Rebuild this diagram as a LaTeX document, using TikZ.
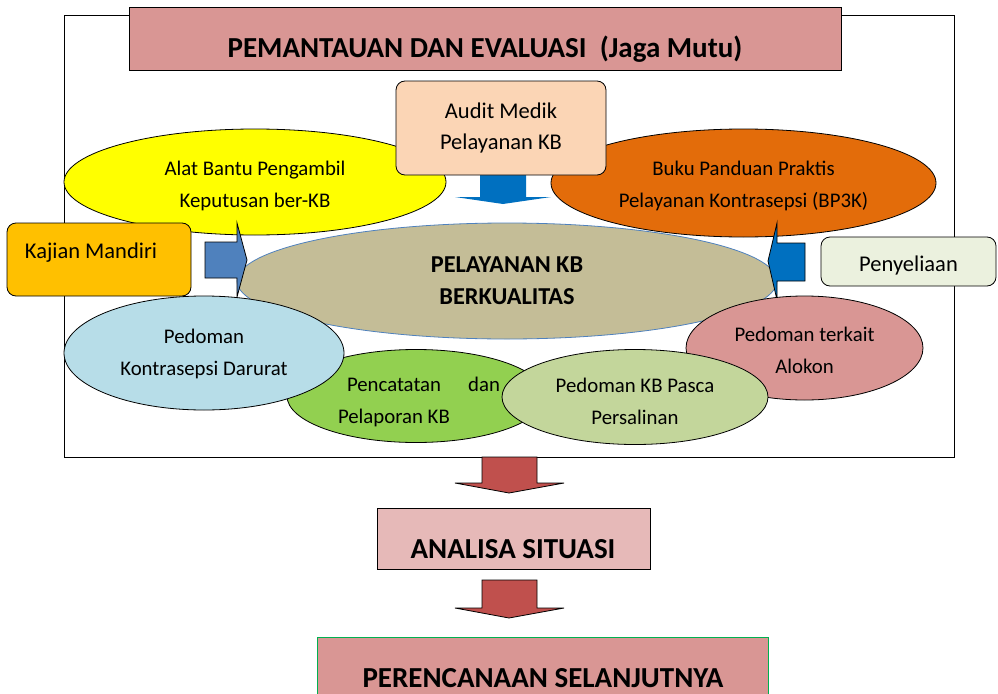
\documentclass[tikz,border=0pt]{standalone}
\usepackage{fontspec}
\setmainfont{Carlito}
\usetikzlibrary{shapes.geometric}
\definecolor{titlepink}{HTML}{D99694}
\definecolor{auditc}{HTML}{FBD5B5}
\definecolor{yellowc}{HTML}{FFFF00}
\definecolor{orangec}{HTML}{E36C0A}
\definecolor{bluedark}{HTML}{0070C0}
\definecolor{beigec}{HTML}{C4BD97}
\definecolor{bluemid}{HTML}{4F81BD}
\definecolor{kajianc}{HTML}{FFC000}
\definecolor{penyc}{HTML}{EBF1DE}
\definecolor{lightbluec}{HTML}{B7DDE8}
\definecolor{greenc}{HTML}{92D050}
\definecolor{lightgreenc}{HTML}{C3D69B}
\definecolor{redarrow}{HTML}{C0504D}
\definecolor{analisac}{HTML}{E6B9B8}
\definecolor{greenborder}{HTML}{00B050}
\begin{document}
\begin{tikzpicture}[x=1pt,y=-1pt,
  ell/.style={ellipse, draw=black, line width=0.8pt, inner sep=0pt},
  lab/.style={align=center, inner sep=0pt, font=\fontsize{20.8}{32}\selectfont},
  rbox/.style={rectangle, rounded corners=9pt, draw=black, line width=0.8pt, inner sep=0pt, align=center,
    font=\fontsize{22.5}{32}\selectfont},
  sqbox/.style={rectangle, draw=black, line width=0.8pt, inner sep=0pt},
  bigtxt/.style={font=\fontsize{29}{34}\selectfont\bfseries, inner sep=0pt, anchor=base},
  blockarrow/.style={draw=black, line width=0.8pt}
]
\useasboundingbox (0,0) rectangle (998,693);

% outer frame
\node[sqbox, minimum width=890pt, minimum height=442pt] (frame) at (509,236) {};

% title
\node[sqbox, fill=titlepink, minimum width=712pt, minimum height=63pt] (title) at (485,38.5) {};
\node[bigtxt] (titletext) at (485,57) {PEMANTAUAN DAN EVALUASI\ \ (Jaga Mutu)};

% top ellipses
\node[ell, fill=yellowc, minimum width=382pt, minimum height=106pt,
  label={[lab, yshift=-4pt]center:Alat Bantu Pengambil\\Keputusan ber-KB}] (alat) at (255,182) {};
\node[ell, fill=orangec, minimum width=385pt, minimum height=108pt,
  label={[lab, yshift=-3pt]center:Buku Panduan Praktis\\Pelayanan Kontrasepsi (BP3K)}] (buku) at (743.5,183) {};

% blue down arrow from audit
\fill[bluedark] (480,170) -- (526,170) -- (526,197) -- (551,197) -- (503,204) -- (455,197) -- (480,197) -- cycle;

% central ellipse
\node[ellipse, fill=beigec, draw=bluemid, line width=0.8pt, inner sep=0pt, align=center,
  minimum width=540pt, minimum height=116pt, font=\fontsize{24.3}{32}\selectfont\bfseries]
  (pelayanan) at (507,281) {PELAYANAN KB\\BERKUALITAS};

% audit box
\node[rbox, fill=auditc, minimum width=210pt, minimum height=94pt] (audit) at (501,128)
  {Audit Medik\\Pelayanan KB};

% side arrows
\draw[blockarrow, fill=bluemid] (205,242) -- (237,242) -- (237,223) -- (247,260) -- (237,297) -- (237,278) -- (205,278) -- cycle;
\draw[blockarrow, fill=bluedark] (805,243) -- (777,243) -- (777,223) -- (768,261) -- (777,300) -- (777,281) -- (805,281) -- cycle;

% side boxes
\node[rbox, fill=kajianc, minimum width=184pt, minimum height=73pt] (kajian) at (99,259.5) {};
\node[font=\fontsize{22.5}{32}\selectfont, inner sep=0pt, anchor=base] (kajiantext) at (91,258) {Kajian Mandiri};
\node[rbox, fill=penyc, minimum width=175pt, minimum height=49pt,
  label={[font=\fontsize{22.5}{32}\selectfont, inner sep=0pt, yshift=-4pt]center:Penyeliaan}] (penyeliaan) at (908.5,261.5) {};

% lower ellipses
\node[ell, fill=titlepink, minimum width=237pt, minimum height=104pt,
  label={[lab, yshift=-2.5pt]center:Pedoman terkait\\Alokon}] (alokon) at (804.5,348) {};
\node[ell, fill=greenc, minimum width=258pt, minimum height=93pt,
  label={[lab, align=left, yshift=-6pt, xshift=3pt]center:\hspace*{9pt}\makebox[153pt][s]{Pencatatan\hfill dan}\\Pelaporan KB}] (pencatatan) at (416,396) {};
\node[ell, fill=lightbluec, minimum width=280pt, minimum height=114pt,
  label={[lab, yshift=-1pt]center:Pedoman\\Kontrasepsi Darurat}] (darurat) at (204,353) {};
\node[ell, fill=lightgreenc, minimum width=266pt, minimum height=95pt,
  label={[lab, yshift=-4pt]center:Pedoman KB Pasca\\Persalinan}] (pasca) at (635,397) {};

% red arrows
\draw[blockarrow, fill=redarrow] (482,457) -- (537,457) -- (537,483) -- (564,483) -- (509,493) -- (455,483) -- (482,483) -- cycle;
\draw[blockarrow, fill=redarrow] (482,580) -- (537,580) -- (537,608) -- (564,608) -- (509,618) -- (455,608) -- (482,608) -- cycle;

% analisa
\node[sqbox, fill=analisac, minimum width=273pt, minimum height=61pt] (analisa) at (513.5,538.5) {};
\node[bigtxt] (analisatext) at (513,558) {ANALISA SITUASI};

% perencanaan
\node[rectangle, draw=greenborder, line width=0.8pt, fill=titlepink, inner sep=0pt,
  minimum width=451pt, minimum height=80pt] (perencanaan) at (542.5,677) {};
\node[bigtxt] (perencanaantext) at (543,687) {PERENCANAAN SELANJUTNYA};
\end{tikzpicture}
\end{document}
